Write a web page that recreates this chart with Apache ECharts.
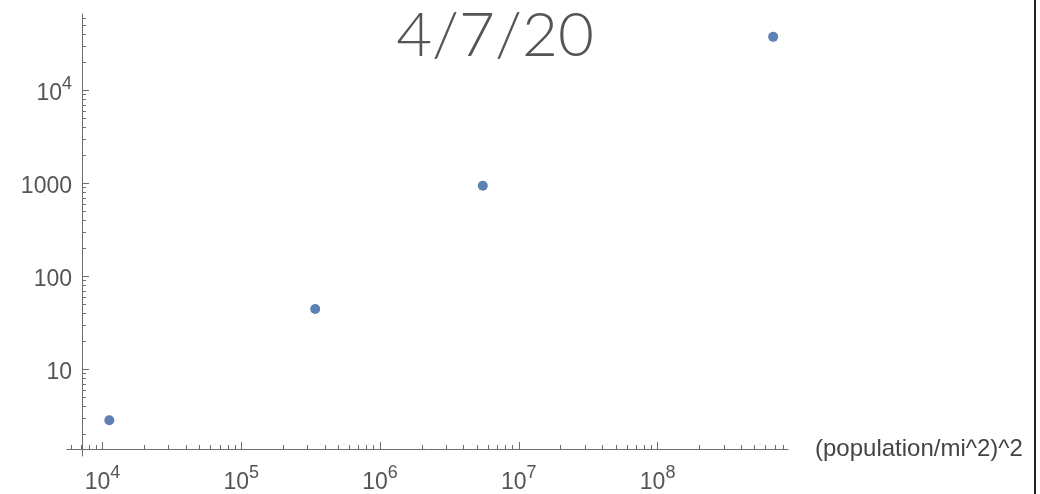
<!DOCTYPE html>
<html>
<head>
<meta charset="utf-8">
<script src="https://cdn.jsdelivr.net/npm/echarts@6/dist/echarts.min.js"></script>
<style>
html,body{margin:0;padding:0;background:#fff;}
#chart{width:1040px;height:494px;}
</style>
</head>
<body>
<div id="chart"></div>
<script>
// Data (log-log scatter)
const titleText = '4/7/20';
const xAxisName = '(population/mi^2)^2';
const xValues = [11200, 341000, 5500000, 680000000];
const yValues = [2.84, 44.6, 945, 37700];

const xMajorTicks = [1e4, 1e5, 1e6, 1e7, 1e8];
const yMajorTicks = [10, 100, 1000, 1e4];
const xMinorTicks = [6e3, 7e3, 8e3, 9e3,
  2e4, 3e4, 4e4, 5e4, 6e4, 7e4, 8e4, 9e4,
  2e5, 3e5, 4e5, 5e5, 6e5, 7e5, 8e5, 9e5,
  2e6, 3e6, 4e6, 5e6, 6e6, 7e6, 8e6, 9e6,
  2e7, 3e7, 4e7, 5e7, 6e7, 7e7, 8e7, 9e7,
  2e8, 3e8, 4e8, 5e8, 6e8, 7e8, 8e8];
const yMinorTicks = [2, 3, 4, 5, 6, 7, 8, 9,
  20, 30, 40, 50, 60, 70, 80, 90,
  200, 300, 400, 500, 600, 700, 800, 900,
  2000, 3000, 4000, 5000, 6000, 7000, 8000, 9000,
  2e4, 3e4, 4e4, 5e4, 6e4];

const xMin = 5550, xMax = 8.7e8;
const yMin = 1.17, yMax = 66400;

const points = xValues.map((x, i) => [x, yValues[i]]);

const axisColor = '#6e6e6e';
const labelColor = '#555';
const richLabel = {
  b: {fontSize: 23, fontFamily: 'Liberation Sans', color: labelColor, lineHeight: 30, verticalAlign: 'bottom'},
  s: {fontSize: 18, fontFamily: 'Liberation Sans', color: labelColor, lineHeight: 18, verticalAlign: 'top'}
};
function powLabel(v) {
  const e = Math.round(Math.log10(v));
  return '{b|10}{s|' + e + '}';
}

const chart = echarts.init(document.getElementById('chart'), null, {renderer: 'canvas'});
chart.setOption({
  backgroundColor: '#fff',
  animation: false,
  graphic: [
    {type: 'text', x: 495, y: 5, silent: true,
     style: {text: titleText, align: 'center', verticalAlign: 'top',
             font: '300 62px Lato', fill: '#555'}},
    {type: 'rect', x: 1034, y: 0, shape: {width: 2, height: 494}, style: {fill: '#222'}, silent: true}
  ],
  grid: {left: 67, right: 252, top: 14, bottom: 36, containLabel: false},
  xAxis: [
    {
      type: 'log', logBase: 10, position: 'bottom', min: xMin, max: xMax, offset: -7,
      name: xAxisName, nameLocation: 'end', nameGap: 27,
      nameTextStyle: {fontSize: 24, fontFamily: 'Liberation Sans', color: '#444', verticalAlign: 'middle', align: 'left'},
      axisLine: {show: true, lineStyle: {color: axisColor, width: 1}},
      axisTick: {show: true, inside: true, length: 7, customValues: xMajorTicks, lineStyle: {color: axisColor}},
      axisLabel: {show: true, margin: 15, customValues: xMajorTicks, formatter: powLabel, rich: richLabel},
      splitLine: {show: false}, minorTick: {show: false}
    },
    {
      type: 'log', logBase: 10, position: 'bottom', min: xMin, max: xMax, offset: -7,
      axisLine: {show: false},
      axisTick: {show: true, inside: true, length: 4, customValues: xMinorTicks, lineStyle: {color: axisColor}},
      axisLabel: {show: false},
      splitLine: {show: false}
    }
  ],
  yAxis: [
    {
      type: 'log', logBase: 10, position: 'left', min: yMin, max: yMax, offset: -15,
      axisLine: {show: true, lineStyle: {color: axisColor, width: 1}},
      axisTick: {show: true, inside: true, length: 7, customValues: yMajorTicks, lineStyle: {color: axisColor}},
      axisLabel: {
        show: true, margin: 10, customValues: yMajorTicks,
        formatter: function (v) { return v >= 1e4 ? powLabel(v) : '{b|' + Math.round(v) + '}'; },
        rich: richLabel
      },
      splitLine: {show: false}, minorTick: {show: false}
    },
    {
      type: 'log', logBase: 10, position: 'left', min: yMin, max: yMax, offset: -15,
      axisLine: {show: false},
      axisTick: {show: true, inside: true, length: 4, customValues: yMinorTicks, lineStyle: {color: axisColor}},
      axisLabel: {show: false},
      splitLine: {show: false}
    }
  ],
  series: [
    {
      type: 'scatter', xAxisIndex: 0, yAxisIndex: 0,
      data: points, symbol: 'circle', symbolSize: 10,
      itemStyle: {color: '#5e81b5', opacity: 1}
    }
  ]
});
</script>
</body>
</html>
